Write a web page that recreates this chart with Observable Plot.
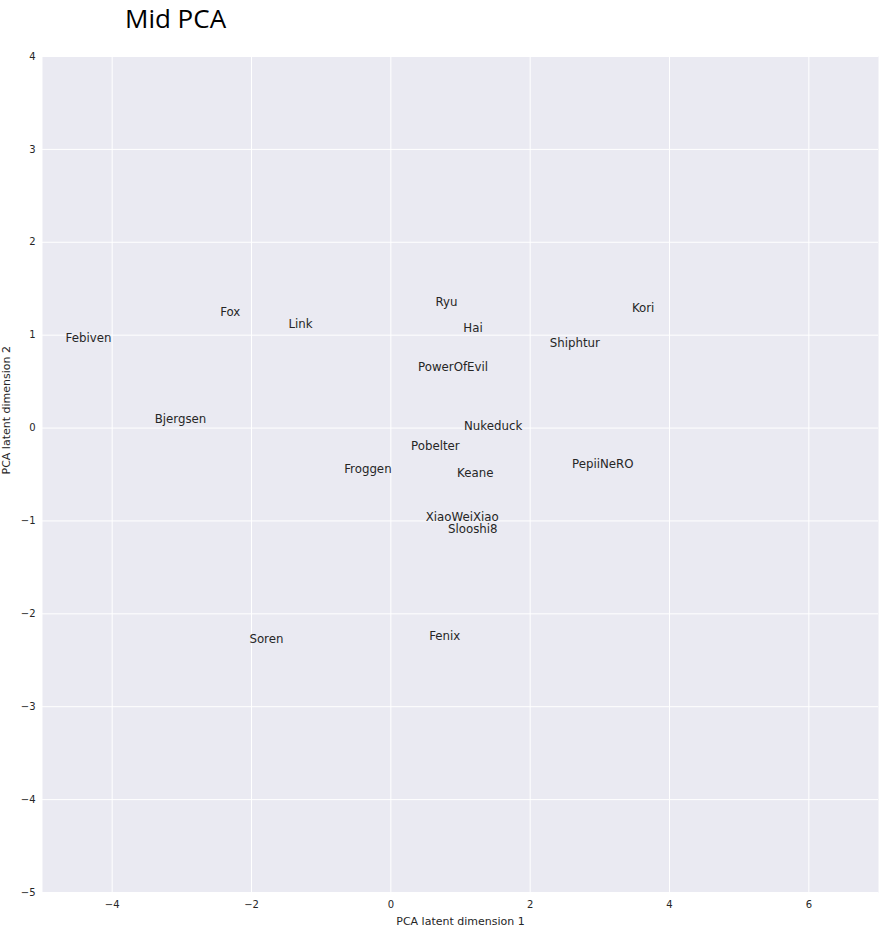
<!DOCTYPE html>
<html>
<head>
<meta charset="utf-8">
<script src="https://cdn.jsdelivr.net/npm/d3@7"></script>
<script src="https://cdn.jsdelivr.net/npm/@observablehq/plot@0.6"></script>
<style>
  html, body { margin: 0; padding: 0; background: white; }
  #wrap { position: relative; width: 888px; height: 944px; }
  #title { position: absolute; left: 125px; top: 5px; font-family: "Open Sans", sans-serif; font-size: 26px; line-height: 26px; color: #000; white-space: nowrap; }
  #chart { position: absolute; left: 0; top: 40px; }
</style>
</head>
<body>
<div id="wrap">
  <div id="title">Mid PCA</div>
  <div id="chart"></div>
</div>
<script>
const names = ["Febiven", "Fox", "Link", "Bjergsen", "Ryu", "Kori", "Hai", "Shiphtur", "PowerOfEvil", "Nukeduck", "Pobelter", "Froggen", "Keane", "PepiiNeRO", "XiaoWeiXiao", "Slooshi8", "Soren", "Fenix"];
const dim1 = [-4.67, -2.45, -1.47, -3.39, 0.64, 3.46, 1.04, 2.28, 0.39, 1.05, 0.29, -0.67, 0.95, 2.60, 0.50, 0.82, -2.03, 0.55];
const dim2 = [0.97, 1.25, 1.12, 0.10, 1.35, 1.29, 1.07, 0.91, 0.65, 0.02, -0.20, -0.44, -0.49, -0.39, -0.96, -1.09, -2.27, -2.24];
const xTicks = [-4, -2, 0, 2, 4, 6];
const yTicks = [-5, -4, -3, -2, -1, 0, 1, 2, 3, 4];
const xLabel = "PCA latent dimension 1";
const yLabel = "PCA latent dimension 2";

const points = names.map((n, i) => ({name: n, x: dim1[i], y: dim2[i]}));
const fmt = d3.format("d");

const chart = Plot.plot({
  width: 888,
  height: 897,
  marginTop: 16,
  marginLeft: 42,
  marginRight: 10,
  marginBottom: 45,
  style: {fontFamily: "DejaVu Sans, sans-serif", fontSize: "10px", color: "#262626", background: "white"},
  x: {domain: [-5, 7]},
  y: {domain: [-5, 4]},
  marks: [
    Plot.frame({fill: "#EAEAF2", stroke: null}),
    Plot.gridX(xTicks, {stroke: "white", strokeOpacity: 1, strokeWidth: 1}),
    Plot.gridY(yTicks, {stroke: "white", strokeOpacity: 1, strokeWidth: 1}),
    Plot.axisX(xTicks, {tickSize: 0, tickPadding: 8, label: null, tickFormat: fmt, fill: "#262626"}),
    Plot.axisY(yTicks, {tickSize: 0, tickPadding: 7, label: null, tickFormat: fmt, fill: "#262626"}),
    Plot.text([xLabel], {frameAnchor: "bottom", dy: 29, text: d => d, lineAnchor: "middle", fontSize: 11, fill: "#262626"}),
    Plot.text([yLabel], {frameAnchor: "left", dx: -36.5, text: d => d, rotate: -90, lineAnchor: "middle", fontSize: 11, fill: "#262626"}),
    Plot.text(points, {x: "x", y: "y", text: "name", textAnchor: "start", lineAnchor: "middle", fontSize: 11.8, fill: "#262626"})
  ]
});
document.getElementById("chart").appendChild(chart);
</script>
</body>
</html>
